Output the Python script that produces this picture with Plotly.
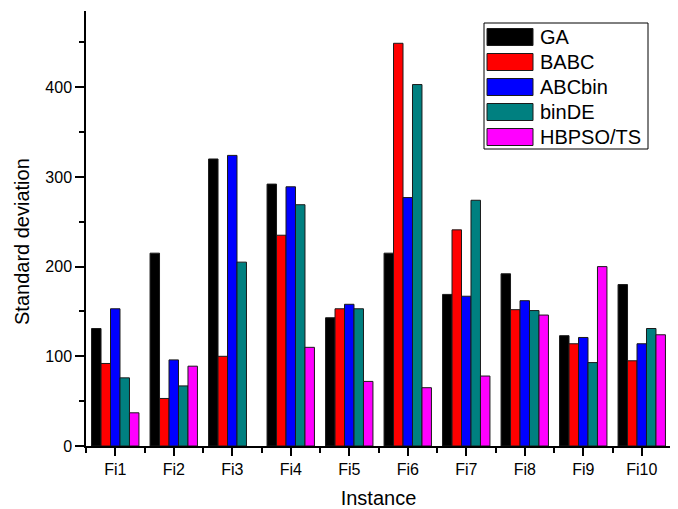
import plotly.graph_objects as go

categories = ["Fi1", "Fi2", "Fi3", "Fi4", "Fi5", "Fi6", "Fi7", "Fi8", "Fi9", "Fi10"]
series_names = ["GA", "BABC", "ABCbin", "binDE", "HBPSO/TS"]
ga = [131, 215, 320, 292, 143, 215, 169, 192, 123, 180]
babc = [92, 53, 100, 235, 153, 449, 241, 152, 114, 95]
abcbin = [153, 96, 324, 289, 158, 277, 167, 162, 121, 114]
binde = [76, 67, 205, 269, 153, 403, 274, 151, 93, 131]
hbpso_ts = [37, 89, None, 110, 72, 65, 78, 146, 200, 124]
y_ticks = [0, 100, 200, 300, 400]

series_values = [ga, babc, abcbin, binde, hbpso_ts]
colors = ["#000000", "#FF0000", "#0000FF", "#008080", "#FF00FF"]

FONT = "Liberation Sans, Arial, sans-serif"
x_idx = list(range(len(categories)))

# page body offset of 8px: figure placed at (8, 8) in the window
OFF = 8
FIG_W, FIG_H = 678 - OFF, 509 - OFF

fig = go.Figure()
for name, vals, col in zip(series_names, series_values, colors):
    fig.add_trace(go.Bar(
        x=x_idx, y=vals, name=name,
        marker=dict(color=col, line=dict(color="#1a1a1a", width=1)),
        showlegend=False,
    ))

# plot area in window pixels: x 86..671, y 11..446
L, R, T, B = 86, 671, 11, 446
W, H = R - L, B - T

def px(x):
    return (x - L) / W

def py(y):
    return (B - y) / H

shapes = []
annotations = []
# legend box
shapes.append(dict(type="rect", xref="paper", yref="paper",
                   x0=px(484), x1=px(648), y0=py(149), y1=py(23),
                   line=dict(color="black", width=1), fillcolor="white", layer="above"))
for i, (name, col) in enumerate(zip(series_names, colors)):
    cy = 37 + 25 * i
    shapes.append(dict(type="rect", xref="paper", yref="paper",
                       x0=px(487), x1=px(533), y0=py(cy + 8.5), y1=py(cy - 8.5),
                       line=dict(color="#1a1a1a", width=1), fillcolor=col, layer="above"))
    annotations.append(dict(xref="paper", yref="paper", x=px(538), y=py(cy),
                            text=name, showarrow=False, xanchor="left", yanchor="middle",
                            font=dict(family=FONT, size=20, color="black")))

# y-axis title (positioned as in the reference, slightly below axis centre)
annotations.append(dict(xref="paper", yref="paper", x=px(22), y=py(242),
                        text="Standard deviation", textangle=-90, showarrow=False,
                        xanchor="center", yanchor="middle",
                        font=dict(family=FONT, size=20, color="black")))

fig.update_layout(
    width=FIG_W, height=FIG_H,
    margin=dict(l=L - OFF, r=FIG_W - (R - OFF), t=T - OFF, b=FIG_H - (B - OFF), autoexpand=False),
    paper_bgcolor="white", plot_bgcolor="white",
    barmode="group", bargap=0.19, bargroupgap=0,
    font=dict(family=FONT, size=16, color="black"),
    shapes=shapes, annotations=annotations,
    xaxis=dict(
        range=[-0.5, 9.5], tickmode="array", tickvals=x_idx, ticktext=categories,
        showline=True, linecolor="black", linewidth=1.5, mirror=False,
        ticks="outside", ticklen=8, tickwidth=1.5, tickcolor="black",
        showgrid=False, zeroline=False,
        tickfont=dict(family=FONT, size=16),
        minor=dict(tickmode="array", tickvals=[i - 0.5 for i in range(len(categories) + 1)],
                   ticks="outside", ticklen=5, tickwidth=1.5, tickcolor="black", showgrid=False),
        title=dict(text="Instance", font=dict(family=FONT, size=20), standoff=14),
        automargin=False,
    ),
    yaxis=dict(
        range=[0, 485], tickmode="array", tickvals=y_ticks,
        showline=True, linecolor="black", linewidth=1.5,
        ticks="outside", ticklen=9, tickwidth=1.5, tickcolor="black",
        showgrid=False, zeroline=False,
        tickfont=dict(family=FONT, size=16),
        minor=dict(tickmode="array", tickvals=[50, 150, 250, 350, 450],
                   ticks="outside", ticklen=5, tickwidth=1.5, tickcolor="black", showgrid=False),
        automargin=False,
    ),
)

fig.write_html("out.html")
